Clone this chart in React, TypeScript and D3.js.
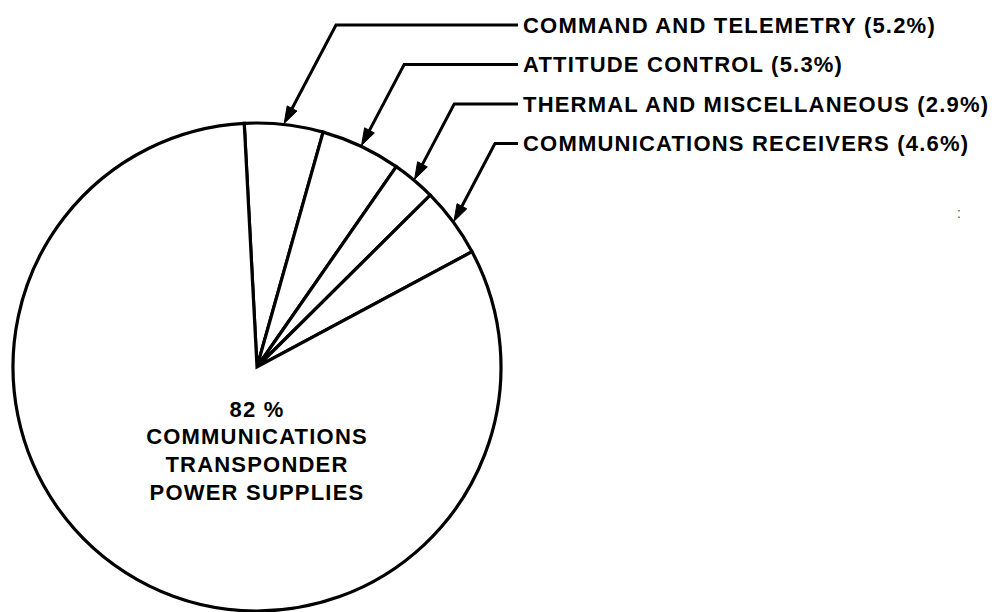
import React from 'react';
import * as d3 from 'd3';

// slices clockwise from 12 o'clock
const categories = [
  'COMMAND AND TELEMETRY',
  'ATTITUDE CONTROL',
  'THERMAL AND MISCELLANEOUS',
  'COMMUNICATIONS RECEIVERS',
  'COMMUNICATIONS TRANSPONDER POWER SUPPLIES'
];
const shares = [5.2, 5.3, 2.9, 4.6, 82];
const shareLabels = ['(5.2%)', '(5.3%)', '(2.9%)', '(4.6%)', '82 %'];
const mainLabelLines = ['COMMUNICATIONS', 'TRANSPONDER', 'POWER SUPPLIES'];

const W = 994;
const H = 612;
const cx = 257;
const cy = 367;
const radius = 244;
const deg = Math.PI / 180;
const font = "'Liberation Sans', Arial, Helvetica, sans-serif";

export default function App() {
  const pie = d3
    .pie<number>()
    .sort(null)
    .startAngle(-3 * deg)
    .endAngle(2 * Math.PI - 3 * deg);
  const arcs = pie(shares);
  const arc = d3.arc<d3.PieArcDatum<number>>().innerRadius(0).outerRadius(radius);

  const callouts = arcs.slice(0, 4);
  const rowY = d3
    .scalePoint<number>()
    .domain(callouts.map((d, i) => i))
    .range([25, 143.5]);

  const lineEndX = 518;
  const slope = 1.9;
  const headLen = 17;
  const headHalf = 5.5;

  return (
    <svg width={W} height={H} style={{ position: 'absolute', left: 0, top: 0, background: '#fff' }}>
      <g transform={`translate(${cx},${cy})`}>
        {arcs.map((d, i) => (
          <path
            key={i}
            d={arc(d) || ''}
            fill="#fff"
            stroke="#000"
            strokeWidth={3.2}
            strokeLinejoin="miter"
          />
        ))}
      </g>

      {callouts.map((d, i) => {
        const a = (d.startAngle + d.endAngle) / 2;
        const tx = cx + (radius + 1) * Math.sin(a);
        const ty = cy - (radius + 1) * Math.cos(a);
        const y = rowY(i) as number;
        const ex = tx + (ty - y) / slope;
        const len = Math.hypot(ex - tx, ty - y);
        const ux = (ex - tx) / len;
        const uy = (y - ty) / len;
        const bx = tx + ux * headLen;
        const by = ty + uy * headLen;
        const head = `M${tx},${ty}L${bx - uy * headHalf},${by + ux * headHalf}L${bx + uy * headHalf},${by - ux * headHalf}Z`;
        return (
          <g key={i}>
            <path
              d={`M${bx},${by}L${ex},${y}L${lineEndX},${y}`}
              fill="none"
              stroke="#000"
              strokeWidth={3}
              strokeLinejoin="miter"
            />
            <path d={head} fill="#000" stroke="#000" strokeWidth={1} />
            <text
              x={lineEndX + 5}
              y={y + 7.8}
              fontFamily={font}
              fontWeight={700}
              fontSize={22}
              letterSpacing={1.2}
              fill="#000"
            >
              {`${categories[i]} ${shareLabels[i]}`}
            </text>
          </g>
        );
      })}

      <g fontFamily={font} fontWeight={700} fontSize={22} letterSpacing={1.2} textAnchor="middle" fill="#000">
        <text x={cx} y={417}>{shareLabels[4]}</text>
        {mainLabelLines.map((t, i) => (
          <text key={t} x={cx} y={444 + i * 28}>
            {t}
          </text>
        ))}
      </g>

      <text x={957} y={218} fontFamily={font} fontSize={14} fill="#555">:</text>
    </svg>
  );
}
